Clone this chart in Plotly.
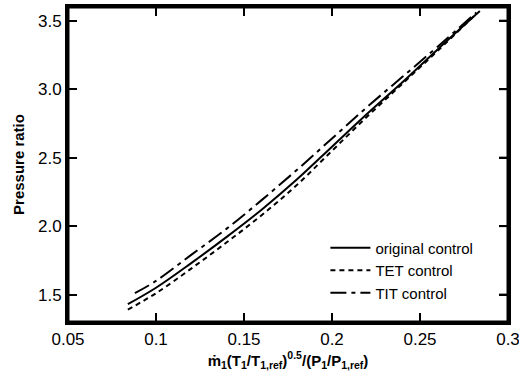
import plotly.graph_objects as go

# data
x_orig = [0.084, 0.10, 0.12, 0.14, 0.16, 0.18, 0.20, 0.22, 0.24, 0.26, 0.284]
y_orig = [1.43, 1.55, 1.73, 1.92, 2.12, 2.34, 2.58, 2.82, 3.05, 3.29, 3.57]

x_tet = [0.084, 0.10, 0.12, 0.14, 0.16, 0.18, 0.20, 0.22, 0.24, 0.26, 0.282]
y_tet = [1.39, 1.51, 1.69, 1.88, 2.08, 2.30, 2.55, 2.80, 3.04, 3.28, 3.55]

x_tit = [0.088, 0.10, 0.12, 0.14, 0.16, 0.18, 0.20, 0.22, 0.24, 0.26, 0.282]
y_tit = [1.51, 1.60, 1.79, 1.98, 2.19, 2.41, 2.64, 2.87, 3.09, 3.31, 3.56]

x_ticks = [0.05, 0.1, 0.15, 0.2, 0.25, 0.3]
x_ticklabels = ["0.05", "0.1", "0.15", "0.2", "0.25", "0.3"]
y_ticks = [1.5, 2.0, 2.5, 3.0, 3.5]

FONT = "Arial, Liberation Sans, sans-serif"
X_RANGE = [0.05, 0.3]
Y_RANGE = [1.3, 3.6]

W, H = 519, 376
ML, MR, MT, MB = 68, 11, 7, 54
TICKLEN = 9

fig = go.Figure()
fig.add_trace(go.Scatter(x=x_orig, y=y_orig, mode="lines", name="original control",
                         line=dict(color="black", width=2, shape="spline", dash="solid")))
fig.add_trace(go.Scatter(x=x_tet, y=y_tet, mode="lines", name="TET control",
                         line=dict(color="black", width=2, shape="spline", dash="5px,4px")))
fig.add_trace(go.Scatter(x=x_tit, y=y_tit, mode="lines", name="TIT control",
                         line=dict(color="black", width=2, shape="spline", dash="16px,5px,4px,5px")))

# frame (top / right sides) and mirrored inside ticks, derived from axis ranges and tick arrays
dy = TICKLEN / (H - MT - MB) * (Y_RANGE[1] - Y_RANGE[0])
dx = TICKLEN / (W - ML - MR) * (X_RANGE[1] - X_RANGE[0])
fx = [X_RANGE[0], X_RANGE[1], X_RANGE[1], X_RANGE[0], X_RANGE[0]]
fy = [Y_RANGE[0], Y_RANGE[0], Y_RANGE[1], Y_RANGE[1], Y_RANGE[0]]
fig.add_trace(go.Scatter(x=fx, y=fy, mode="lines", line=dict(color="black", width=3),
                         showlegend=False, hoverinfo="skip", cliponaxis=False))
tx, ty = [], []
for t in x_ticks:
    tx += [t, t, None]
    ty += [Y_RANGE[1], Y_RANGE[1] - dy, None]
for v in y_ticks:
    tx += [X_RANGE[1], X_RANGE[1] - dx, None]
    ty += [v, v, None]
fig.add_trace(go.Scatter(x=tx, y=ty, mode="lines", line=dict(color="black", width=2),
                         showlegend=False, hoverinfo="skip", cliponaxis=False, connectgaps=False))

axis_common = dict(
    showline=True, linecolor="black", linewidth=3, mirror="ticks",
    ticks="inside", ticklen=TICKLEN, tickwidth=2, tickcolor="black",
    showgrid=False, zeroline=False, ticklabeloverflow="allow",
    tickfont=dict(family=FONT, size=17, color="black"),
)

fig.update_layout(
    width=W, height=H,
    margin=dict(l=ML, r=MR, t=MT, b=MB, autoexpand=False),
    paper_bgcolor="white", plot_bgcolor="white",
    font=dict(family=FONT, color="black"),
    xaxis=dict(range=X_RANGE, tickvals=x_ticks, ticktext=x_ticklabels,
               title=dict(text="<b>ṁ<sub>1</sub>(T<sub>1</sub>/T<sub>1,ref</sub>)<sup>0.5</sup>/(P<sub>1</sub>/P<sub>1,ref</sub>)</b>",
                          font=dict(family=FONT, size=15), standoff=4),
               **axis_common),
    yaxis=dict(range=Y_RANGE, tickvals=y_ticks, tickformat=".1f",
               title=dict(text="<b>Pressure ratio</b>", font=dict(family=FONT, size=15), standoff=10),
               **axis_common),
    showlegend=True,
    legend=dict(x=0.585, y=0.287, xanchor="left", yanchor="top",
                bgcolor="rgba(0,0,0,0)", font=dict(family=FONT, size=15, color="black"),
                tracegroupgap=0, itemwidth=40),
)

fig.write_html(
    "out.html", config={"displayModeBar": False},
    post_script=(
        "document.documentElement.style.margin='0';"
        "document.documentElement.style.overflow='hidden';"
        "document.body.style.margin='0';document.body.style.padding='0';"
        "document.body.style.overflow='hidden';window.scrollTo(0,0);"
    ),
)
